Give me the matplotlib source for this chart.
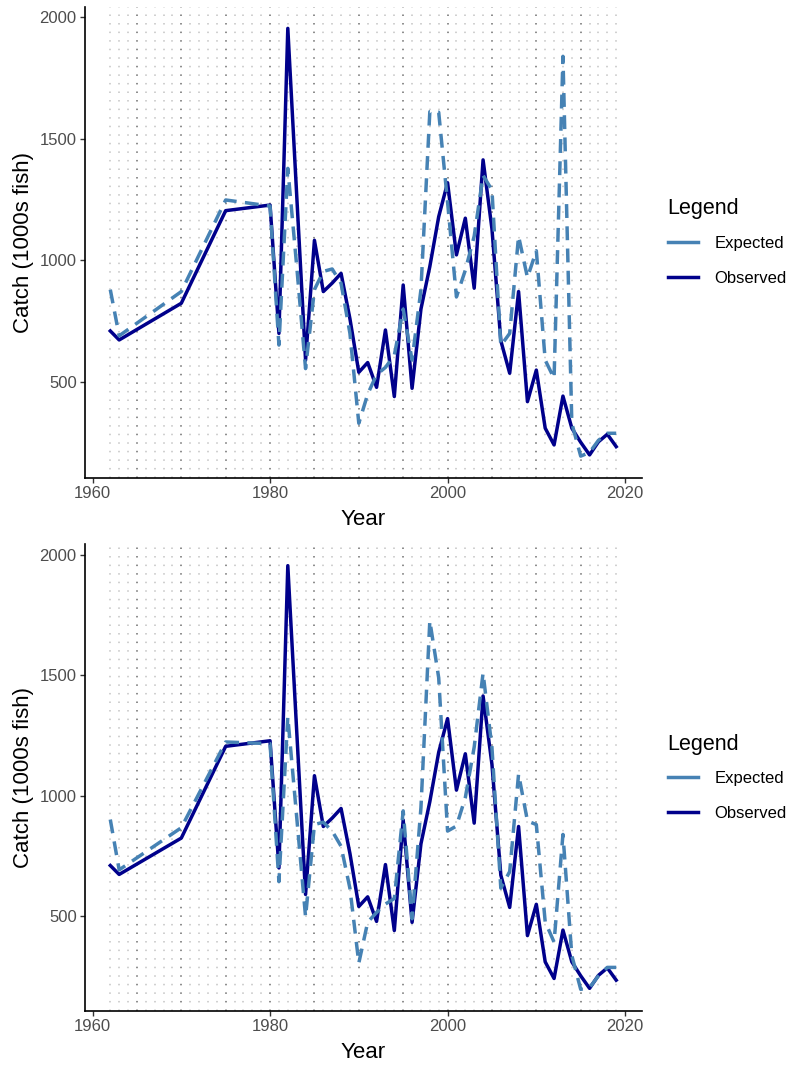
import matplotlib
matplotlib.use("Agg")
import matplotlib.pyplot as plt
from matplotlib.lines import Line2D

plt.rcParams['font.family'] = ['Liberation Sans', 'DejaVu Sans']

years = [1962, 1963, 1970, 1975, 1980, 1981, 1982, 1983, 1984, 1985, 1986, 1987,
         1988, 1989, 1990, 1991, 1992, 1993, 1994, 1995, 1996, 1997, 1998, 1999,
         2000, 2001, 2002, 2003, 2004, 2005, 2006, 2007, 2008, 2009, 2010, 2011,
         2012, 2013, 2014, 2015, 2016, 2017, 2018, 2019]

observed = [710, 673, 824, 1205, 1228, 700, 1955, 1270, 590, 1083, 872, 907,
            947, 760, 540, 580, 478, 714, 440, 899, 474, 800, 975, 1180,
            1320, 1023, 1174, 886, 1414, 1130, 670, 536, 872, 419, 549, 310,
            241, 442, 310, 252, 200, 254, 285, 234]

expected_top = [880, 690, 872, 1249, 1224, 652, 1379, 978, 555, 880, 955, 965,
                906, 700, 330, 450, 530, 560, 610, 800, 590, 880, 1612, 1610,
                1240, 850, 960, 1100, 1350, 1290, 650, 700, 1100, 930, 1040, 590,
                515, 1840, 330, 195, 210, 260, 289, 289]

expected_bottom = [901, 692, 867, 1223, 1216, 643, 1327, 912, 497, 880, 890, 853,
                   790, 615, 305, 475, 515, 550, 573, 937, 489, 950, 1726, 1490,
                   853, 874, 992, 1202, 1509, 1200, 616, 685, 1090, 895, 880, 476,
                   392, 839, 336, 196, 203, 252, 287, 287]

grid_years = list(range(1962, 2020))
x_ticks = [1960, 1980, 2000, 2020]
y_ticks = [500, 1000, 1500, 2000]

OBS_COLOR = '#00008B'
EXP_COLOR = '#4682B4'

W, H = 789, 1068
fig = plt.figure(figsize=(W / 100, H / 100), dpi=100)

def px_axes(left, top, right, bottom):
    return fig.add_axes([left / W, 1 - bottom / H, (right - left) / W, (bottom - top) / H])

panels = [
    (px_axes(85, 7, 641.5, 477.5), expected_top),
    (px_axes(85, 544.5, 641.5, 1010.5), expected_bottom),
]

for ax, expected in panels:
    for yr in grid_years:
        major = (yr % 5 == 0)
        ax.axvline(yr, color='#6e6e6e' if major else '#c4c4c4', lw=1.1,
                   dashes=(1, 4.6), zorder=0)
    ax.plot(years, observed, color=OBS_COLOR, lw=2.5, zorder=3)
    l, = ax.plot(years, expected, color=EXP_COLOR, lw=2.5, zorder=4)
    l.set_dashes([4.0, 2.4])
    ax.margins(x=0.05, y=0.05)
    ax.set_xticks(x_ticks)
    ax.set_yticks(y_ticks)
    for s in ['top', 'right']:
        ax.spines[s].set_visible(False)
    for s in ['left', 'bottom']:
        ax.spines[s].set_linewidth(1.2)
        ax.spines[s].set_color('black')
    ax.tick_params(axis='both', length=3.5, width=1.0, color='#333333',
                   labelsize=12, labelcolor='#4D4D4D', pad=2.5)
    ax.set_xlabel('Year', fontsize=16, color='black', labelpad=6)
    ax.set_ylabel('Catch (1000s fish)', fontsize=16, color='black', labelpad=4)
    handles = [Line2D([0], [0], color=EXP_COLOR, lw=2.5),
               Line2D([0], [0], color=OBS_COLOR, lw=2.5)]
    leg = ax.legend(handles, ['Expected', 'Observed'], title='Legend',
                    loc='center left', bbox_to_anchor=(1.047, 0.5),
                    frameon=False, fontsize=12, title_fontsize=15.5,
                    alignment='left', handlelength=1.8, handletextpad=1.0,
                    labelspacing=1.2, borderpad=0, borderaxespad=0)
    leg._legend_box.sep = 12

fig.savefig('out.png', dpi=100)
